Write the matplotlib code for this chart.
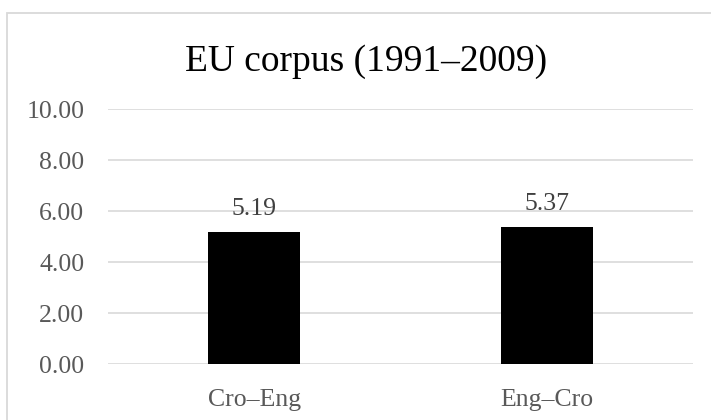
import matplotlib.pyplot as plt
from matplotlib.patches import Rectangle

categories = ["Cro\u2013Eng", "Eng\u2013Cro"]
values = [5.19, 5.37]
yticks = [0, 2, 4, 6, 8, 10]
title = "EU corpus (1991\u20132009)"

plt.rcParams['font.family'] = ['Liberation Serif', 'DejaVu Serif']

fig = plt.figure(figsize=(7.11, 4.2), dpi=100)
ax = fig.add_axes([108 / 711, 1 - 364.3 / 420, 585 / 711, 255 / 420])

# chart border (cropped at right and bottom)
fig.patches.append(Rectangle((7 / 711, -0.1), 1.2, 1 - 13 / 420 + 0.1,
                             transform=fig.transFigure, fill=False,
                             edgecolor='#d9d9d9', linewidth=1.3))

x = list(range(len(categories)))
bars = ax.bar(x, values, width=0.315, color='black', zorder=3)
for b, v in zip(bars, values):
    ax.annotate(f"{v:.2f}", (b.get_x() + b.get_width() / 2, v),
                xytext=(0, 12.5), textcoords='offset points',
                ha='center', va='baseline', fontsize=18.5, color='#404040')

ax.set_xlim(-0.5, 1.5)
ax.set_ylim(0, 10)
ax.set_yticks(yticks)
ax.set_yticklabels([f"{t:.2f}" for t in yticks])
ax.set_xticks(x)
ax.set_xticklabels(categories)
ax.tick_params(axis='y', length=0, pad=17, labelsize=18.5, labelcolor='#595959')
ax.tick_params(axis='x', length=0, pad=18, labelsize=18.5, labelcolor='#595959')
ax.grid(axis='y', color='#d9d9d9', linewidth=1.2, zorder=0)
for s in ax.spines.values():
    s.set_visible(False)

fig.text(366 / 711, 1 - 71 / 420, title, ha='center', va='baseline',
         fontsize=27, color='black')

fig.savefig('out.png', dpi=100)
